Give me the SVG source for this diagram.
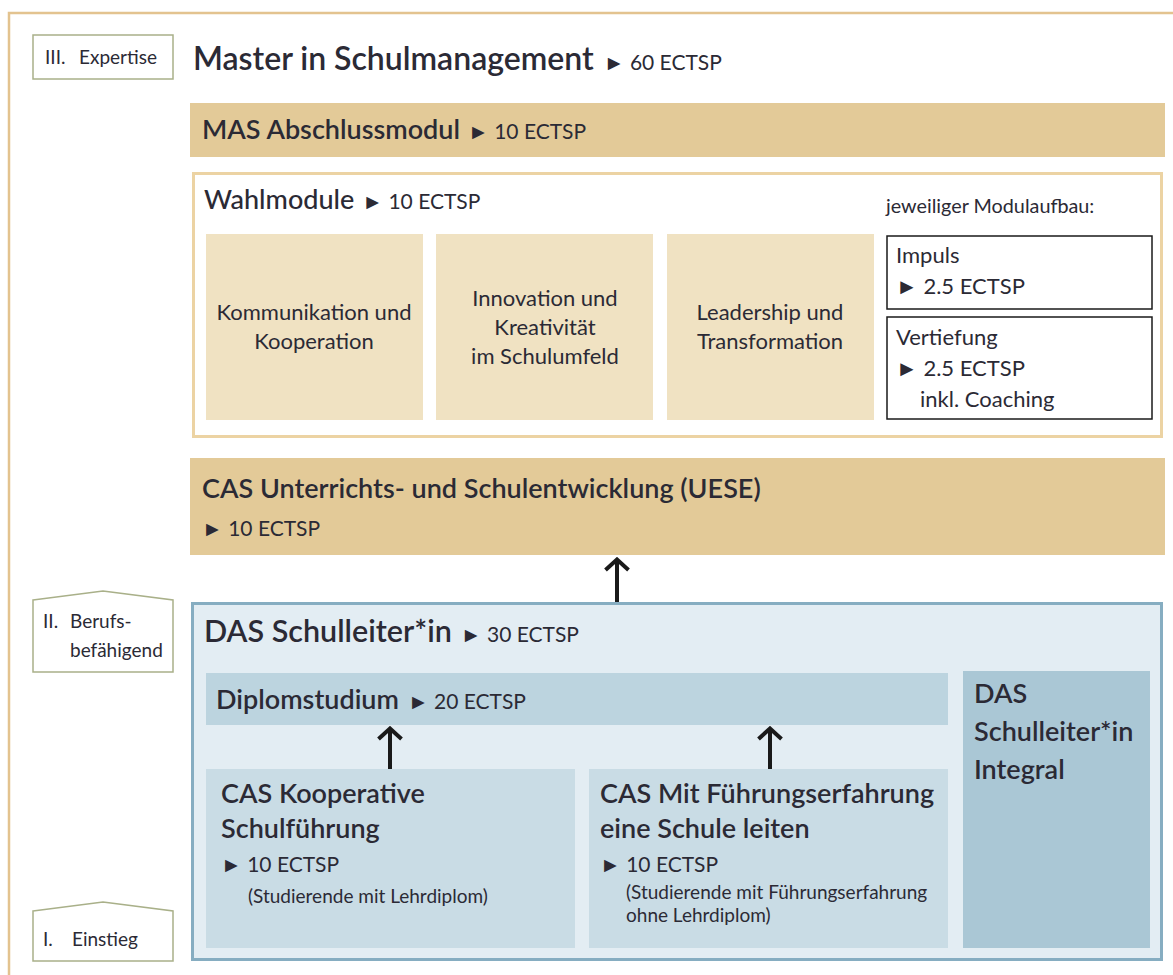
<svg xmlns="http://www.w3.org/2000/svg" width="1173" height="975" viewBox="0 0 1173 975">
<defs>
<style>
text{font-family:Lato,"Open Sans","Liberation Sans",sans-serif;fill:#2b2a35}
.lvl{fill:#fff;stroke:#a9b089;stroke-width:1.5}
.l{font-size:19px}
.h1{font-size:32px;font-weight:600}
.h2{font-size:27px;font-weight:600}
.h3{font-size:27px;font-weight:600}
.e{font-size:21px}
.m{font-size:22px}
.s{font-size:19px}
.b{font-size:22px}
.tan{fill:#e3ca98}
.tanl{fill:#f0e2c2}
.conn{stroke:#1a1a1a;stroke-width:4;fill:none}
</style>
<marker id="ah" viewBox="0 0 16 28" refX="14" refY="14" markerWidth="16" markerHeight="28" markerUnits="userSpaceOnUse" orient="auto">
<path d="M3,2.5 L13.5,14 L3,25.5" fill="none" stroke="#1a1a1a" stroke-width="4"/>
</marker>
</defs>
<rect width="1173" height="975" fill="#fff"/>
<path d="M9,975 V13 H1173" fill="none" stroke="#e3c38f" stroke-width="2.5"/>

<g id="level3">
<rect class="lvl" x="33" y="35" width="140" height="44"/>
<text class="l" x="45" y="64">III.</text><text class="l" x="79" y="64">Expertise</text>
</g>
<g id="level2">
<path class="lvl" d="M33,600 L103,591 L173,600 V672 H33 Z"/>
<text class="l" x="43" y="628">II.</text><text class="l" x="70" y="628">Berufs-</text>
<text class="l" x="70" y="657">befähigend</text>
</g>
<g id="level1">
<path class="lvl" d="M33,911 L103,902 L173,911 V961 H33 Z"/>
<text class="l" x="43" y="946">I.</text><text class="l" x="72" y="946">Einstieg</text>
</g>

<g id="master">
<text x="193" y="70"><tspan class="h1">Master in Schulmanagement</tspan><tspan class="e" dx="10">► 60 ECTSP</tspan></text>
</g>
<g id="mas">
<rect class="tan" x="190" y="103" width="975" height="54"/>
<text x="202" y="139"><tspan class="h2">MAS Abschlussmodul</tspan><tspan class="e" dx="8">► 10 ECTSP</tspan></text>
</g>
<g id="wahlmodule">
<rect x="193.5" y="173.5" width="968" height="263" fill="#fff" stroke="#ecd3a3" stroke-width="3"/>
<text x="204" y="209"><tspan style="font-size:27px;font-weight:500">Wahlmodule</tspan><tspan class="e" dx="8">► 10 ECTSP</tspan></text>
<text x="886" y="213" style="font-size:19.8px">jeweiliger Modulaufbau:</text>
</g>
<g id="kommunikation">
<rect class="tanl" x="206" y="234" width="217" height="186"/>
<text class="m" text-anchor="middle" x="314" y="320">Kommunikation und</text>
<text class="m" text-anchor="middle" x="314" y="349">Kooperation</text>
</g>
<g id="innovation">
<rect class="tanl" x="436" y="234" width="217" height="186"/>
<text class="m" text-anchor="middle" x="545" y="306">Innovation und</text>
<text class="m" text-anchor="middle" x="545" y="335">Kreativität</text>
<text class="m" text-anchor="middle" x="545" y="364">im Schulumfeld</text>
</g>
<g id="leadership">
<rect class="tanl" x="667" y="234" width="207" height="186"/>
<text class="m" text-anchor="middle" x="770" y="320">Leadership und</text>
<text class="m" text-anchor="middle" x="770" y="349">Transformation</text>
</g>
<g id="impuls">
<rect x="887" y="236" width="265" height="73" fill="#fff" stroke="#1a1a1a" stroke-width="1.5"/>
<text class="b" x="896" y="263">Impuls</text>
<text class="b" x="896" y="294">► 2.5 ECTSP</text>
</g>
<g id="vertiefung">
<rect x="887" y="317" width="265" height="102" fill="#fff" stroke="#1a1a1a" stroke-width="1.5"/>
<text class="b" x="896" y="345">Vertiefung</text>
<text class="b" x="896" y="376">► 2.5 ECTSP</text>
<text class="b" x="920" y="407">inkl. Coaching</text>
</g>
<g id="cas-uese">
<rect class="tan" x="190" y="458" width="975" height="97"/>
<text class="h2" x="202" y="498">CAS Unterrichts- und Schulentwicklung (UESE)</text>
<text class="e" x="202" y="536">► 10 ECTSP</text>
</g>
<g id="das">
<rect x="192.5" y="603.5" width="969" height="356" fill="#e3edf3" stroke="#86adc1" stroke-width="3"/>
<text x="204" y="642"><tspan style="font-size:30.5px;font-weight:600">DAS Schulleiter*in</tspan><tspan class="e" dx="9">► 30 ECTSP</tspan></text>
</g>
<g id="diplomstudium">
<rect x="206" y="673" width="742" height="52" fill="#bcd4df"/>
<text x="216" y="709"><tspan class="h3">Diplomstudium</tspan><tspan class="e" dx="9">► 20 ECTSP</tspan></text>
</g>
<g id="das-integral">
<rect x="963" y="671" width="187" height="277" fill="#aac7d5"/>
<text class="h3" x="974" y="703">DAS</text>
<text class="h3" x="974" y="741">Schulleiter*in</text>
<text class="h3" x="974" y="779">Integral</text>
</g>
<g id="cas-kooperative">
<rect x="206" y="769" width="369" height="179" fill="#c9dce5"/>
<text class="h2" x="221" y="803">CAS Kooperative</text>
<text class="h2" x="221" y="838">Schulführung</text>
<text class="e" x="221" y="872">► 10 ECTSP</text>
<text class="s" x="248" y="903">(Studierende mit Lehrdiplom)</text>
</g>
<g id="cas-fuehrung">
<rect x="589" y="769" width="359" height="179" fill="#c9dce5"/>
<text class="h2" x="600" y="803">CAS Mit Führungserfahrung</text>
<text class="h2" x="600" y="838">eine Schule leiten</text>
<text class="e" x="600" y="872">► 10 ECTSP</text>
<text class="s" x="626" y="899">(Studierende mit Führungserfahrung</text>
<text class="s" x="626" y="922">ohne Lehrdiplom)</text>
</g>

<g id="connectors">
<line class="conn" x1="617" y1="602" x2="617" y2="559" marker-end="url(#ah)"/>
<line class="conn" x1="390" y1="769" x2="390" y2="728" marker-end="url(#ah)"/>
<line class="conn" x1="770" y1="769" x2="770" y2="728" marker-end="url(#ah)"/>
</g>
</svg>
